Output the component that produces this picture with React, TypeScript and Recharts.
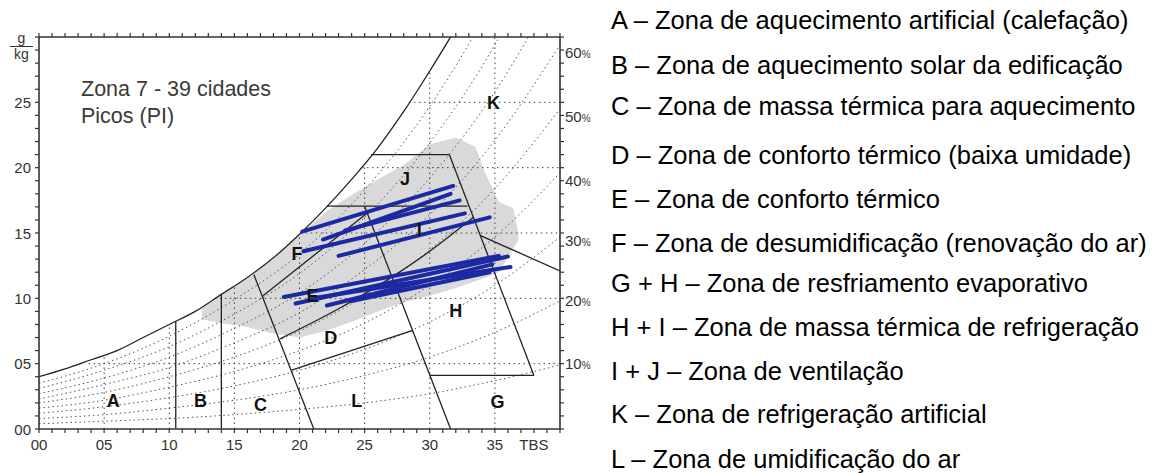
import React from 'react';
import { ComposedChart, Line, Area, Scatter, XAxis, YAxis } from 'recharts';

// temperature (°C) / humidity ratio (g/kg)
const saturationCurve = [
  { t: 0, w: 4.0 }, { t: 2, w: 4.6 }, { t: 4, w: 5.3 }, { t: 6, w: 6.0 },
  { t: 8, w: 7.0 }, { t: 10, w: 8.0 }, { t: 12, w: 9.0 }, { t: 14, w: 10.3 },
  { t: 16, w: 11.6 }, { t: 18, w: 13.1 }, { t: 20, w: 14.9 }, { t: 22, w: 16.9 },
  { t: 24, w: 19.1 }, { t: 26, w: 21.5 }, { t: 28, w: 24.3 }, { t: 30, w: 27.4 },
  { t: 31.6, w: 30 },
];

// relative humidity curves (dotted), w at each temperature step
const rhTemps = [0, 5, 10, 15, 20, 25, 30, 35, 40];
const rh10 = [0.4, 0.6, 0.8, 1.1, 1.5, 2.0, 2.7, 3.7, 4.9];
const rh20 = [0.8, 1.1, 1.6, 2.2, 3.0, 4.1, 5.5, 7.4, 9.8];
const rh30 = [1.2, 1.7, 2.4, 3.3, 4.5, 6.1, 8.2, 11.0, 14.7];
const rh40 = [1.6, 2.2, 3.2, 4.4, 6.0, 8.1, 11.0, 14.7, 19.6];
const rh50 = [2.0, 2.8, 4.0, 5.5, 7.5, 10.2, 13.7, 18.4, 24.5];
const rh60 = [2.3, 3.4, 4.7, 6.6, 8.9, 12.2, 16.4, 22.1, 29.4];
const rh70 = [2.7, 3.9, 5.5, 7.7, 10.4, 14.2, 19.2, 25.8, 34.3];
const rh80 = [3.1, 4.5, 6.3, 8.8, 11.9, 16.2, 21.9, 29.4, 39.2];
const rh90 = [3.5, 5.0, 7.1, 9.9, 13.4, 18.3, 24.7, 33.1, 44.1];
const rhCurves = [rh10, rh20, rh30, rh40, rh50, rh60, rh70, rh80, rh90];

// dotted grid, only under the saturation curve
const gridVertical = [
  [{ t: 5, w: 0 }, { t: 5, w: 5.6 }],
  [{ t: 10, w: 0 }, { t: 10, w: 8.0 }],
  [{ t: 15, w: 0 }, { t: 15, w: 11.0 }],
  [{ t: 20, w: 0 }, { t: 20, w: 14.9 }],
  [{ t: 25, w: 0 }, { t: 25, w: 20.3 }],
  [{ t: 30, w: 0 }, { t: 30, w: 27.4 }],
  [{ t: 35, w: 0 }, { t: 35, w: 30 }],
];
const gridHorizontal = [
  [{ t: 3.8, w: 5 }, { t: 40, w: 5 }],
  [{ t: 13.5, w: 10 }, { t: 40, w: 10 }],
  [{ t: 20.1, w: 15 }, { t: 40, w: 15 }],
  [{ t: 24.8, w: 20 }, { t: 40, w: 20 }],
  [{ t: 28.4, w: 25 }, { t: 40, w: 25 }],
];

// zone boundaries
const zoneLines = [
  [{ t: 10.5, w: 0 }, { t: 10.5, w: 8.2 }],
  [{ t: 14, w: 0 }, { t: 14, w: 10.3 }],
  [{ t: 16.5, w: 11.8 }, { t: 21.1, w: 0 }],
  [{ t: 25.0, w: 17.05 }, { t: 31.6, w: 0 }],
  [{ t: 25.5, w: 21 }, { t: 31.5, w: 21 }],
  [{ t: 22.1, w: 17.05 }, { t: 32.9, w: 17.05 }],
  [{ t: 31.5, w: 21 }, { t: 38, w: 4.1 }],
  [{ t: 30.0, w: 4.1 }, { t: 38, w: 4.1 }],
  [{ t: 33.9, w: 14.8 }, { t: 40, w: 12.1 }],
  [{ t: 17.2, w: 10.2 }, { t: 25.3, w: 16.6 }],
  [{ t: 19.4, w: 4.5 }, { t: 28.7, w: 7.55 }],
];
const comfortLowLine = [
  { t: 18.5, w: 6.9 }, { t: 23, w: 9.2 }, { t: 27.2, w: 11.7 },
  { t: 30, w: 13.6 }, { t: 33.35, w: 16.2 },
];

// hourly climate data cloud (grey) and hourly lines (blue)
const cloudT = [12.5, 14, 16, 18, 20, 22, 24, 26, 28, 30, 32, 33.5, 34.3, 35.3, 36.4, 36.8];
const cloudLow = [8.4, 8.1, 7.8, 7.3, 7.0, 7.5, 8.2, 9.0, 9.7, 10.2, 10.8, 11.3, 11.6, 12.0, 13.8, 14.4];
const cloudHigh = [9.2, 10.2, 11.5, 13.0, 14.8, 16.6, 17.9, 19.1, 20.2, 21.8, 22.3, 21.6, 19.5, 17.4, 16.9, 15.0];

const hourlyUpper = [
  [{ t: 20.2, w: 15.1 }, { t: 31.8, w: 18.6 }],
  [{ t: 21.8, w: 14.5 }, { t: 31.6, w: 18.0 }],
  [{ t: 23.5, w: 15.2 }, { t: 32.3, w: 17.5 }],
  [{ t: 20.3, w: 13.6 }, { t: 32.7, w: 16.5 }],
  [{ t: 23.0, w: 13.25 }, { t: 34.6, w: 16.2 }],
];
const hourlyLower = [
  [{ t: 18.8, w: 10.1 }, { t: 35.3, w: 13.25 }],
  [{ t: 19.7, w: 9.6 }, { t: 36.0, w: 13.2 }],
  [{ t: 21.0, w: 10.0 }, { t: 36.2, w: 12.4 }],
  [{ t: 22.1, w: 9.45 }, { t: 34.8, w: 12.6 }],
  [{ t: 24.0, w: 9.8 }, { t: 34.6, w: 12.0 }],
];

const zoneLabels = [
  { t: 5.7, w: 2.2, label: 'A' }, { t: 12.4, w: 2.2, label: 'B' },
  { t: 17.0, w: 1.9, label: 'C' }, { t: 22.4, w: 7.0, label: 'D' },
  { t: 21.0, w: 10.2, label: 'E' }, { t: 19.8, w: 13.4, label: 'F' },
  { t: 35.2, w: 2.1, label: 'G' }, { t: 32.0, w: 9.1, label: 'H' },
  { t: 29.2, w: 15.3, label: 'I' }, { t: 28.1, w: 19.2, label: 'J' },
  { t: 34.9, w: 25.0, label: 'K' }, { t: 24.4, w: 2.2, label: 'L' },
];

const xLabels = [
  { t: 0, text: '00' }, { t: 5, text: '05' }, { t: 10, text: '10' }, { t: 15, text: '15' },
  { t: 20, text: '20' }, { t: 25, text: '25' }, { t: 30, text: '30' }, { t: 35, text: '35' },
  { t: 38, text: 'TBS' },
];
const yLabels = [
  { w: 0, text: '00' }, { w: 5, text: '05' }, { w: 10, text: '10' },
  { w: 15, text: '15' }, { w: 20, text: '20' }, { w: 25, text: '25' },
];
const rhLabels = [
  { w: 5.05, text: '10' }, { w: 9.85, text: '20' }, { w: 14.4, text: '30' },
  { w: 19.05, text: '40' }, { w: 23.9, text: '50' }, { w: 28.8, text: '60' },
];

const zoneLegend = [
  'A – Zona de aquecimento artificial (calefação)',
  'B – Zona de aquecimento solar da edificação',
  'C – Zona de massa térmica para aquecimento',
  'D – Zona de conforto térmico (baixa umidade)',
  'E – Zona de conforto térmico',
  'F – Zona de desumidificação (renovação do ar)',
  'G + H – Zona de resfriamento evaporativo',
  'H + I – Zona de massa térmica de refrigeração',
  'I + J – Zona de ventilação',
  'K – Zona de refrigeração artificial',
  'L – Zona de umidificação do ar',
];
const legendY = [20, 65, 106, 155, 199, 243, 283, 327, 371, 414, 459];

const font = '"Liberation Sans", Arial, sans-serif';
const axisColor = '#333';
const degreeTicks = Array.from({ length: 41 }, (_, i) => i);
const gkgTicks = Array.from({ length: 31 }, (_, i) => i);

const BottomTick = (props: any) => {
  const { x, y, payload } = props;
  const lab = xLabels.find(d => d.t === payload.value);
  return (
    <g>
      <line x1={x} x2={x} y1={y} y2={y + 4} stroke={axisColor} strokeWidth={1.2} />
      {lab && (
        <text x={x} y={y + 21} textAnchor="middle" fontSize={15} fill="#333" fontFamily={font}>
          {lab.text}
        </text>
      )}
    </g>
  );
};

const TopTick = (props: any) => {
  const { x, y } = props;
  return <line x1={x} x2={x} y1={y} y2={y - 4} stroke={axisColor} strokeWidth={1.2} />;
};

const LeftTick = (props: any) => {
  const { x, y, payload } = props;
  const lab = yLabels.find(d => d.w === payload.value);
  return (
    <g>
      <line x1={x - 4} x2={x} y1={y} y2={y} stroke={axisColor} strokeWidth={1.2} />
      {lab && (
        <text x={x - 8} y={y + 5.5} textAnchor="end" fontSize={15} fill="#333" fontFamily={font}>
          {lab.text}
        </text>
      )}
    </g>
  );
};

const RightTick = (props: any) => {
  const { x, y, payload } = props;
  const lab = rhLabels.find(d => d.w === payload.value);
  if (lab) {
    return (
      <text x={x + 5} y={y + 5.5} fontSize={15} fill="#333" fontFamily={font}>
        {lab.text}
        <tspan fontSize={10}>%</tspan>
      </text>
    );
  }
  return <line x1={x} x2={x + 4} y1={y} y2={y} stroke={axisColor} strokeWidth={1.2} />;
};

const ZoneLetter = (props: any) => (
  <text
    x={props.cx}
    y={props.cy + 6.5}
    textAnchor="middle"
    fontSize={18}
    fontWeight="bold"
    fill="#111"
    fontFamily={font}
  >
    {props.payload.label}
  </text>
);

const App: React.FC = () => {
  const cloud = cloudT.map((t, i) => ({ t, range: [cloudLow[i], cloudHigh[i]] }));
  const rhData = rhCurves.map(c => rhTemps.map((t, i) => ({ t, w: c[i] })));
  const rightTicks = [...gkgTicks, ...rhLabels.map(d => d.w)];

  return (
    <div style={{ position: 'absolute', left: 0, top: 0, width: 1158, height: 473, background: '#fff', fontFamily: font }}>
      <ComposedChart width={600} height={473} margin={{ top: 36, right: 39, bottom: 43, left: 38 }}>
        <XAxis
          dataKey="t" type="number" domain={[0, 40]} allowDataOverflow
          ticks={degreeTicks} interval={0} height={1} tickSize={0} tickMargin={0}
          tickLine={false} tick={BottomTick} stroke={axisColor} strokeWidth={1.6}
        />
        <XAxis
          xAxisId="top" orientation="top" dataKey="t" type="number" domain={[0, 40]}
          ticks={degreeTicks} interval={0} height={1} tickSize={0} tickMargin={0}
          tickLine={false} tick={TopTick} stroke={axisColor} strokeWidth={1.6}
        />
        <YAxis
          dataKey="w" type="number" domain={[0, 30]} allowDataOverflow
          ticks={gkgTicks} interval={0} width={1} tickSize={0} tickMargin={0}
          tickLine={false} tick={LeftTick} stroke={axisColor} strokeWidth={1.6}
        />
        <YAxis
          yAxisId="right" orientation="right" dataKey="w" type="number" domain={[0, 30]}
          ticks={rightTicks} interval={0} width={1} tickSize={0} tickMargin={0}
          tickLine={false} tick={RightTick} stroke={axisColor} strokeWidth={1.6}
        />

        <Area data={cloud} dataKey="range" type="linear" fill="#d9d9d9" fillOpacity={1} stroke="none" isAnimationActive={false} />

        {rhData.map((d, i) => (
          <Line key={'rh' + i} data={d} dataKey="w" type="monotone" stroke="#555" strokeWidth={1}
            strokeDasharray="1.5 3" dot={false} isAnimationActive={false} />
        ))}
        {[...gridVertical, ...gridHorizontal].map((d, i) => (
          <Line key={'g' + i} data={d} dataKey="w" type="linear" stroke="#444" strokeWidth={1}
            strokeDasharray="1.5 3.5" dot={false} isAnimationActive={false} />
        ))}

        <Line data={saturationCurve} dataKey="w" type="monotone" stroke="#222" strokeWidth={1.3} dot={false} isAnimationActive={false} />
        {/* same curve on the top/right axes, invisible, so these axes get drawn */}
        <Line xAxisId="top" yAxisId="right" data={saturationCurve} dataKey="w" stroke="none" dot={false} isAnimationActive={false} />
        {zoneLines.map((d, i) => (
          <Line key={'z' + i} data={d} dataKey="w" type="linear" stroke="#222" strokeWidth={1.3} dot={false} isAnimationActive={false} />
        ))}
        <Line data={comfortLowLine} dataKey="w" type="monotone" stroke="#222" strokeWidth={1.3} dot={false} isAnimationActive={false} />

        {[...hourlyUpper, ...hourlyLower].map((d, i) => (
          <Line key={'h' + i} data={d} dataKey="w" type="linear" stroke="#1b2aa3" strokeWidth={4}
            strokeLinecap="round" dot={false} isAnimationActive={false} />
        ))}

        <Scatter data={zoneLabels} dataKey="w" shape={ZoneLetter} isAnimationActive={false} />
      </ComposedChart>

      <div style={{ position: 'absolute', left: 10, top: 31, width: 23, textAlign: 'center', fontSize: 14, color: '#333', lineHeight: '14px' }}>
        <div style={{ borderBottom: '1px solid #333', paddingBottom: 1 }}>g</div>
        <div>kg</div>
      </div>

      <div style={{ position: 'absolute', left: 81, top: 76, fontSize: 21.5, lineHeight: '27px', color: '#3a3a3a', whiteSpace: 'nowrap' }}>
        <div>Zona 7 - 39 cidades</div>
        <div>Picos (PI)</div>
      </div>

      {zoneLegend.map((txt, i) => (
        <div key={txt} style={{ position: 'absolute', left: 611, top: legendY[i] - 15, height: 30, lineHeight: '30px', fontSize: 25.5, color: '#000', whiteSpace: 'nowrap' }}>
          {txt}
        </div>
      ))}
    </div>
  );
};

export default App;
